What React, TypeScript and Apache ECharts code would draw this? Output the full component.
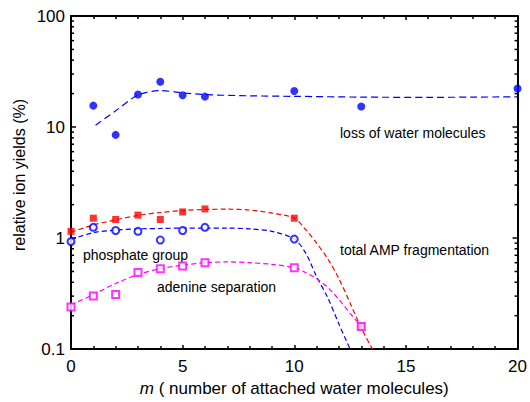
import React, { useEffect, useRef } from 'react';
import * as echarts from 'echarts';

// measured points
const mWater = [1, 2, 3, 4, 5, 6, 10, 13, 20];
const lossOfWater = [15.6, 8.5, 19.6, 25.6, 19.3, 18.8, 21.1, 15.3, 22.2];

const mFrag = [0, 1, 2, 3, 4, 5, 6, 10, 13];
const totalAMP = [1.15, 1.51, 1.47, 1.61, 1.47, 1.72, 1.83, 1.51, 0.16];

const mPhos = [0, 1, 2, 3, 4, 5, 6, 10];
const phosphate = [0.93, 1.25, 1.17, 1.15, 0.96, 1.17, 1.25, 0.98];

const mAden = [0, 1, 2, 3, 4, 5, 6, 10, 13];
const adenine = [0.24, 0.3, 0.31, 0.49, 0.53, 0.56, 0.6, 0.54, 0.16];

// fitted (dashed) curves
const fitWaterM = [1.1, 2, 3, 4, 5, 6, 8, 10, 13, 16, 18, 20];
const fitWaterV = [10.4, 14.0, 19.4, 21.3, 20.3, 19.6, 19.1, 18.9, 18.6, 18.5, 18.6, 18.7];

const fitAMPM = [0, 1, 2, 3, 4, 5, 6, 7, 8, 9, 10, 10.5, 11, 11.5, 12, 12.5, 13, 13.5];
const fitAMPV = [1.13, 1.31, 1.46, 1.6, 1.7, 1.77, 1.81, 1.82, 1.79, 1.68, 1.51, 1.2, 0.9, 0.65, 0.43, 0.26, 0.155, 0.1];

const fitPhosM = [0, 1, 2, 3, 4, 5, 6, 7, 8, 9, 10, 10.5, 11, 11.5, 12, 12.5];
const fitPhosV = [0.97, 1.12, 1.18, 1.21, 1.22, 1.23, 1.23, 1.23, 1.21, 1.15, 0.98, 0.74, 0.45, 0.29, 0.168, 0.1];

const fitAdenM = [0, 1, 2, 3, 4, 5, 6, 7, 8, 9, 10, 10.5, 11, 11.5, 12, 12.5, 13];
const fitAdenV = [0.25, 0.31, 0.39, 0.47, 0.53, 0.57, 0.6, 0.61, 0.6, 0.58, 0.54, 0.49, 0.43, 0.36, 0.28, 0.21, 0.16];

const yMinorTicks = [0.2, 0.3, 0.4, 0.5, 0.6, 0.7, 0.8, 0.9, 2, 3, 4, 5, 6, 7, 8, 9, 20, 30, 40, 50, 60, 70, 80, 90];

const xTitle = '{i|m} ( number of attached water molecules)';
const yTitle = 'relative ion yields (%)';
const annotations = [
  { text: 'loss of water molecules', x: 340, y: 133 },
  { text: 'total AMP fragmentation', x: 340, y: 250 },
  { text: 'phosphate group', x: 83, y: 255 },
  { text: 'adenine separation', x: 157, y: 287 },
];

const FONT = 'Arial, "Liberation Sans", Helvetica, sans-serif';
const BLUE = '#0000ff';
const RED = '#ff0000';
const MAGENTA = '#ff00ff';

const zip = (a: number[], b: number[]) => a.map((v, i) => [v, b[i]]);

export default function App() {
  const ref = useRef<HTMLDivElement>(null);
  useEffect(() => {
    const chart = echarts.init(ref.current!, null, { renderer: 'svg' });
    const fitLine = (data: number[][], color: string, dash: number[]) => ({
      type: 'line',
      data,
      smooth: 0.3,
      showSymbol: false,
      symbol: 'none',
      lineStyle: { color, width: 1.2, type: dash },
      z: 2,
      silent: true,
    });
    chart.setOption({
      animation: false,
      backgroundColor: '#ffffff',
      textStyle: { fontFamily: FONT },
      grid: { left: 71, right: 11, top: 16, bottom: 50, containLabel: false },
      xAxis: [
        {
          type: 'value',
          min: 0,
          max: 20,
          interval: 5,
          axisLine: { show: true, onZero: false, lineStyle: { color: '#000', width: 2 } },
          axisTick: { show: true, inside: true, length: 4, lineStyle: { color: '#000', width: 1.5 } },
          minorTick: { show: true, splitNumber: 5, length: 3, lineStyle: { color: '#000', width: 1.5 } },
          axisLabel: { fontSize: 17, color: '#000', margin: 9, fontFamily: FONT },
          splitLine: { show: false },
          name: xTitle,
          nameLocation: 'middle',
          nameGap: 28,
          nameTextStyle: {
            fontSize: 17,
            color: '#000',
            fontFamily: FONT,
            rich: { i: { fontStyle: 'italic', fontSize: 17, fontFamily: FONT, color: '#000' } },
          },
        },
        {
          type: 'value',
          position: 'top',
          min: 0,
          max: 20,
          interval: 5,
          axisLine: { show: true, onZero: false, lineStyle: { color: '#000', width: 2 } },
          axisTick: { show: true, inside: true, length: 4, lineStyle: { color: '#000', width: 1.5 } },
          minorTick: { show: true, splitNumber: 5, length: 3, lineStyle: { color: '#000', width: 1.5 } },
          axisLabel: { show: false },
          splitLine: { show: false },
        },
      ],
      yAxis: [
        {
          type: 'log',
          logBase: 10,
          min: 0.1,
          max: 100,
          interval: 1,
          axisLine: { show: true, onZero: false, lineStyle: { color: '#000', width: 2 } },
          axisTick: { show: true, inside: true, length: 5, lineStyle: { color: '#000', width: 1.5 } },
          axisLabel: { fontSize: 17, color: '#000', margin: 6, fontFamily: FONT },
          splitLine: { show: false },
        },
        {
          type: 'log',
          logBase: 10,
          min: 0.1,
          max: 100,
          interval: 1,
          position: 'right',
          axisLine: { show: true, onZero: false, lineStyle: { color: '#000', width: 2 } },
          axisTick: { show: true, inside: true, length: 5, lineStyle: { color: '#000', width: 1.5 } },
          axisLabel: { show: false },
          splitLine: { show: false },
        },
      ],
      graphic: [
        {
          type: 'text',
          x: 19,
          y: 175,
          rotation: Math.PI / 2,
          style: {
            text: yTitle,
            fontSize: 16,
            fontFamily: FONT,
            fill: '#000',
            align: 'center',
            verticalAlign: 'middle',
          },
        },
        ...annotations.map((a) => ({
          type: 'text',
          x: a.x,
          y: a.y,
          style: {
            text: a.text,
            fontSize: 14,
            fontFamily: FONT,
            fill: '#000',
            align: 'left',
            verticalAlign: 'middle',
          },
        })),
      ],
      series: [
        {
          type: 'custom',
          coordinateSystem: 'cartesian2d',
          data: yMinorTicks.map((v) => [0, v]),
          silent: true,
          z: 1,
          renderItem: (params: any, api: any) => {
            const cs = params.coordSys;
            const y = api.coord([0, api.value(1)])[1];
            const ls = { stroke: '#000', lineWidth: 1.5 };
            return {
              type: 'group',
              children: [
                { type: 'line', shape: { x1: cs.x, y1: y, x2: cs.x + 3, y2: y }, style: ls },
                { type: 'line', shape: { x1: cs.x + cs.width - 3, y1: y, x2: cs.x + cs.width, y2: y }, style: ls },
              ],
            };
          },
        },
        fitLine(zip(fitWaterM, fitWaterV), BLUE, [7, 4]),
        fitLine(zip(fitAMPM, fitAMPV), RED, [5, 3]),
        fitLine(zip(fitPhosM, fitPhosV), BLUE, [5, 3]),
        fitLine(zip(fitAdenM, fitAdenV), MAGENTA, [5, 3]),
        {
          type: 'scatter',
          data: zip(mWater, lossOfWater),
          symbol: 'circle',
          symbolSize: 8,
          itemStyle: { color: BLUE },
          z: 5,
        },
        {
          type: 'scatter',
          data: zip(mFrag, totalAMP),
          symbol: 'rect',
          symbolSize: 7,
          itemStyle: { color: RED },
          z: 5,
        },
        {
          type: 'scatter',
          data: zip(mPhos, phosphate),
          symbol: 'emptyCircle',
          symbolSize: 7,
          itemStyle: { color: BLUE, borderColor: BLUE, borderWidth: 1.2 },
          z: 5,
        },
        {
          type: 'scatter',
          data: zip(mAden, adenine),
          symbol: 'emptyRect',
          symbolSize: 7,
          itemStyle: { color: MAGENTA, borderColor: MAGENTA, borderWidth: 1.2 },
          z: 6,
        },
      ],
    });
    return () => chart.dispose();
  }, []);
  return (
    <div
      ref={ref}
      style={{ position: 'fixed', left: 0, top: 0, width: 530, height: 402, background: '#fff' }}
    />
  );
}
